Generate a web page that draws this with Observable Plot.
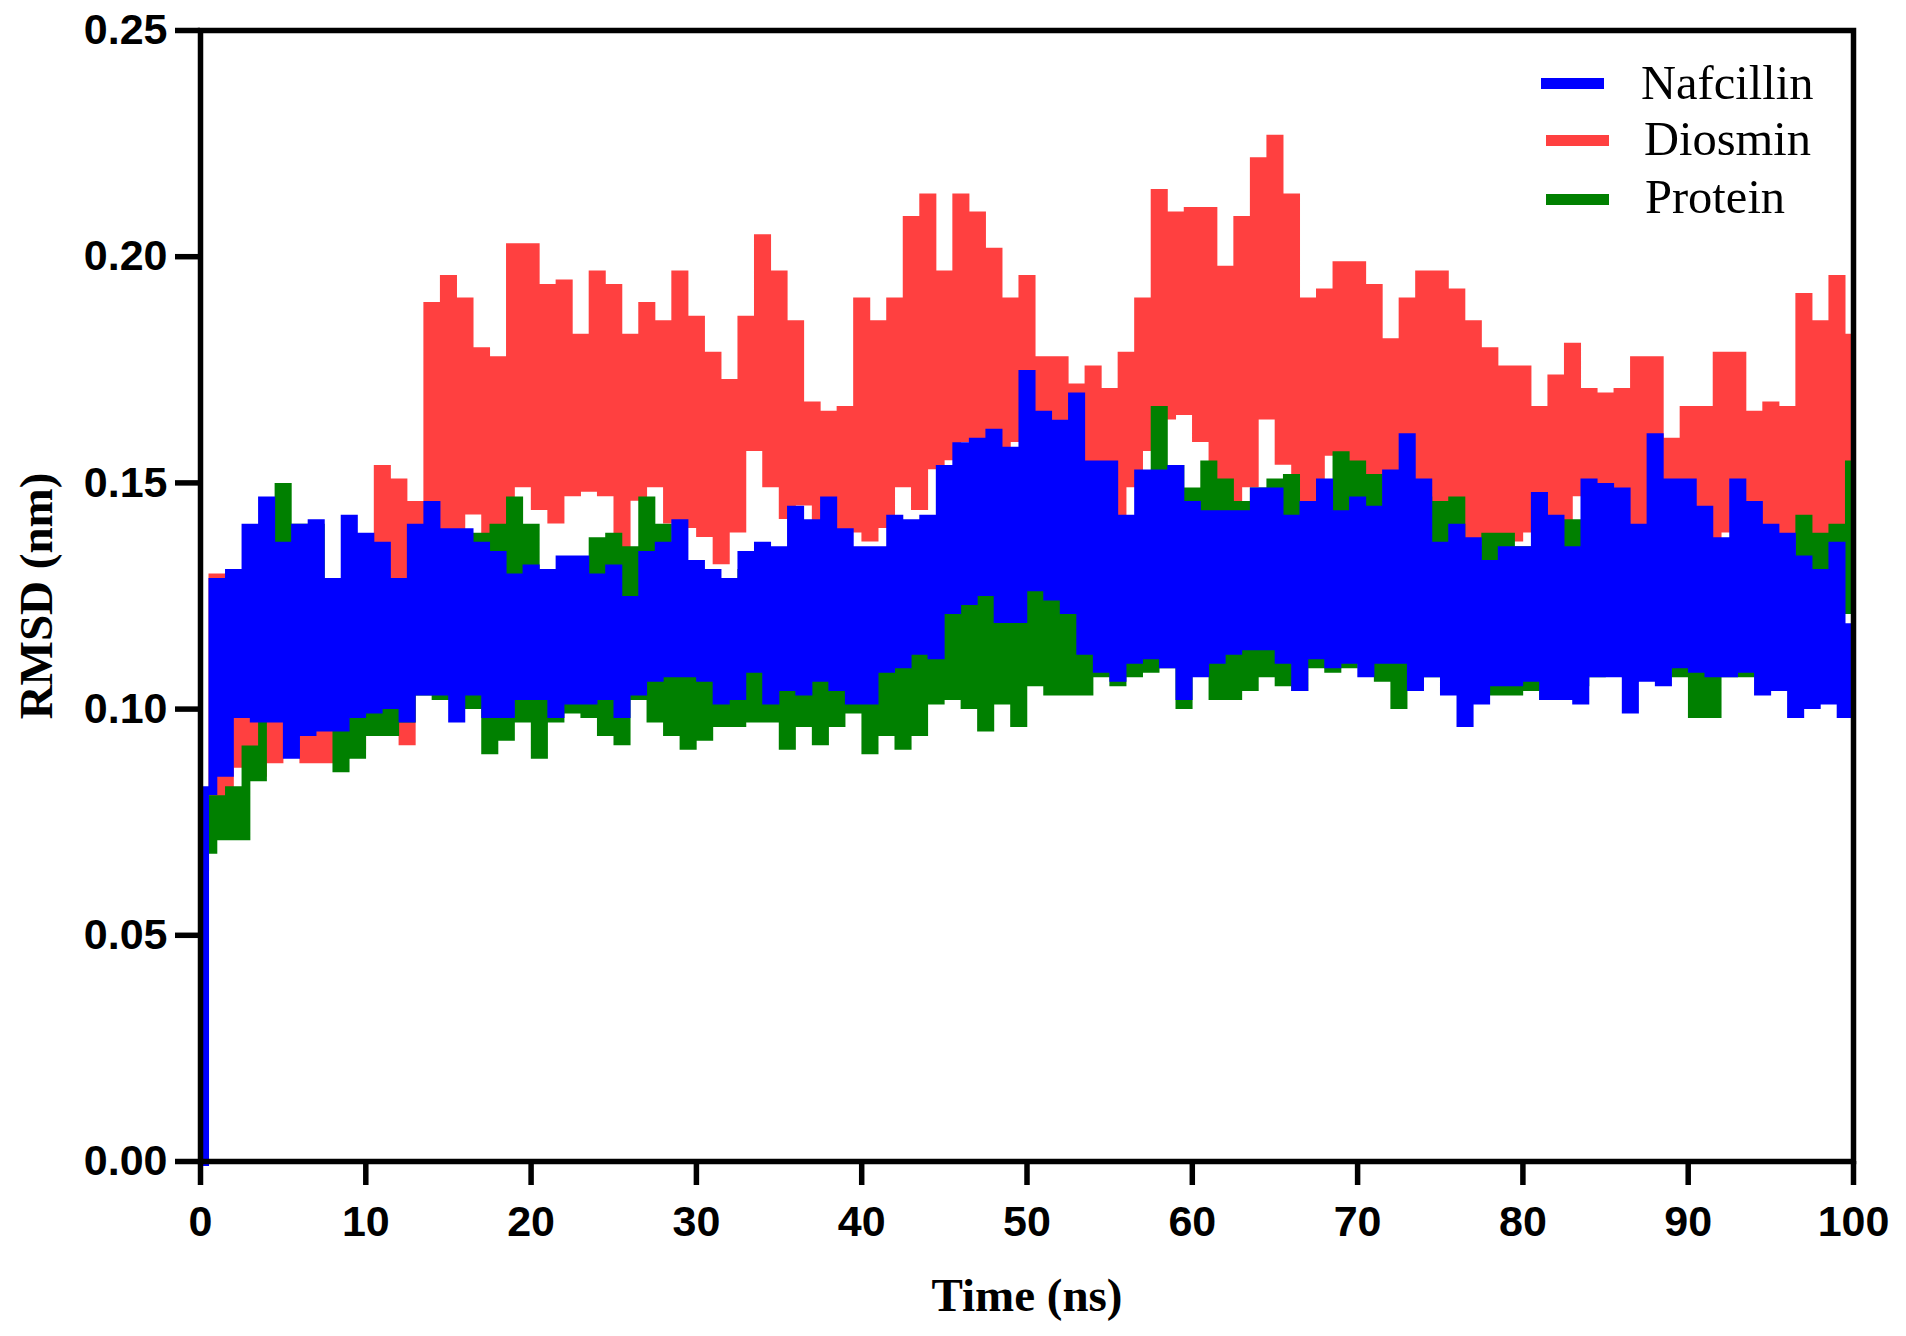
<!DOCTYPE html>
<html>
<head>
<meta charset="utf-8">
<script src="https://cdn.jsdelivr.net/npm/d3@7"></script>
<script src="https://cdn.jsdelivr.net/npm/@observablehq/plot@0.6"></script>
<style>
  html, body { margin: 0; padding: 0; background: #fff; }
  #wrap { position: relative; width: 1906px; height: 1336px; }
  #legend .sw { position: absolute; width: 63px; height: 11px; }
  #legend .lb { position: absolute; font-family: "Liberation Serif", "Times New Roman", serif; font-size: 48.5px; line-height: 48.5px; color: #000; white-space: nowrap; }
</style>
</head>
<body>
<div id="wrap"><div id="chart"></div><div id="legend"></div></div>
<script>
// ---- categories / labels ----
const seriesNames  = ["Nafcillin", "Diosmin", "Protein"];
const seriesColors = ["#0000FF", "#FF4040", "#008000"];
const xTicks = [0, 10, 20, 30, 40, 50, 60, 70, 80, 90, 100];
const yTicks = [0.00, 0.05, 0.10, 0.15, 0.20, 0.25];
const xLabel = "Time (ns)";
const yLabel = "RMSD (nm)";

// ---- values ----
// "peaks" are the local maxima at t = 0,1,...,100 ns ; "troughs" the local minima at t = 0.5,1.5,...,99.5 ns
const nafcillinPeaks = [0.000,
  0.128,0.130,0.140,0.146,0.136,0.140,0.141,0.128,0.142,0.138,
  0.136,0.128,0.140,0.145,0.139,0.139,0.136,0.134,0.129,0.131,
  0.130,0.133,0.133,0.129,0.131,0.124,0.134,0.136,0.141,0.132,
  0.130,0.128,0.134,0.136,0.135,0.144,0.141,0.146,0.139,0.135,
  0.135,0.142,0.141,0.142,0.153,0.158,0.159,0.161,0.157,0.174,
  0.165,0.163,0.169,0.154,0.154,0.142,0.152,0.152,0.153,0.145,
  0.143,0.143,0.143,0.148,0.148,0.142,0.145,0.150,0.143,0.146,
  0.144,0.152,0.160,0.150,0.136,0.140,0.137,0.132,0.135,0.135,
  0.147,0.142,0.135,0.150,0.149,0.148,0.140,0.160,0.150,0.150,
  0.144,0.137,0.150,0.145,0.140,0.138,0.133,0.130,0.136,0.118];
const nafcillinTroughs = [
  0.082,0.086,0.099,0.098,0.098,0.090,0.095,0.096,0.096,0.099,
  0.100,0.101,0.098,0.104,0.104,0.098,0.104,0.099,0.099,0.103,
  0.103,0.099,0.102,0.102,0.103,0.099,0.104,0.107,0.108,0.108,
  0.107,0.102,0.103,0.109,0.102,0.105,0.104,0.107,0.105,0.102,
  0.102,0.109,0.110,0.113,0.112,0.122,0.124,0.126,0.120,0.120,
  0.127,0.125,0.122,0.113,0.109,0.107,0.111,0.112,0.110,0.103,
  0.108,0.111,0.113,0.114,0.114,0.111,0.105,0.112,0.110,0.111,
  0.108,0.111,0.111,0.105,0.108,0.104,0.097,0.102,0.106,0.106,
  0.107,0.103,0.103,0.102,0.108,0.108,0.100,0.107,0.106,0.110,
  0.109,0.108,0.108,0.109,0.104,0.105,0.099,0.101,0.102,0.099];

const diosminPeaks = [0.075,
  0.129,0.105,0.105,0.105,0.100,0.100,0.105,0.105,0.105,0.125,
  0.153,0.150,0.145,0.189,0.195,0.190,0.179,0.177,0.202,0.202,
  0.193,0.194,0.182,0.196,0.193,0.182,0.189,0.185,0.196,0.186,
  0.178,0.172,0.186,0.204,0.196,0.185,0.167,0.165,0.166,0.190,
  0.185,0.190,0.208,0.213,0.196,0.213,0.209,0.201,0.190,0.195,
  0.177,0.177,0.171,0.175,0.170,0.178,0.190,0.214,0.209,0.210,
  0.210,0.197,0.208,0.221,0.226,0.213,0.190,0.192,0.198,0.198,
  0.193,0.181,0.190,0.196,0.196,0.192,0.185,0.179,0.175,0.175,
  0.166,0.173,0.180,0.170,0.169,0.170,0.177,0.177,0.159,0.166,
  0.166,0.178,0.178,0.165,0.167,0.166,0.191,0.185,0.195,0.182];
const diosminTroughs = [
  0.077,0.081,0.088,0.086,0.089,0.092,0.089,0.089,0.090,0.092,
  0.097,0.100,0.093,0.141,0.140,0.140,0.144,0.127,0.140,0.150,
  0.145,0.142,0.148,0.149,0.148,0.125,0.147,0.150,0.142,0.141,
  0.139,0.133,0.140,0.158,0.150,0.143,0.146,0.141,0.137,0.140,
  0.138,0.141,0.150,0.145,0.154,0.156,0.160,0.155,0.157,0.160,
  0.160,0.160,0.157,0.145,0.143,0.142,0.150,0.158,0.165,0.166,
  0.160,0.145,0.144,0.150,0.165,0.155,0.144,0.145,0.157,0.152,
  0.148,0.143,0.150,0.150,0.146,0.138,0.138,0.134,0.135,0.138,
  0.140,0.140,0.131,0.148,0.145,0.142,0.137,0.136,0.136,0.143,
  0.138,0.136,0.140,0.138,0.135,0.133,0.130,0.129,0.130,0.140];

const proteinPeaks = [0.065,
  0.080,0.082,0.091,0.137,0.149,0.140,0.140,0.128,0.120,0.120,
  0.120,0.125,0.125,0.128,0.130,0.130,0.138,0.140,0.146,0.140,
  0.128,0.128,0.130,0.137,0.138,0.135,0.146,0.140,0.130,0.125,
  0.125,0.128,0.130,0.128,0.125,0.125,0.125,0.128,0.134,0.128,
  0.125,0.125,0.125,0.125,0.124,0.124,0.130,0.128,0.128,0.128,
  0.128,0.128,0.130,0.130,0.135,0.140,0.140,0.166,0.153,0.148,
  0.154,0.150,0.145,0.148,0.150,0.151,0.145,0.148,0.156,0.154,
  0.151,0.145,0.145,0.146,0.145,0.146,0.135,0.138,0.138,0.135,
  0.130,0.141,0.141,0.130,0.130,0.130,0.130,0.130,0.130,0.135,
  0.133,0.135,0.130,0.130,0.130,0.133,0.142,0.138,0.140,0.154];
const proteinTroughs = [
  0.069,0.072,0.072,0.085,0.100,0.100,0.100,0.098,0.087,0.090,
  0.095,0.095,0.098,0.104,0.103,0.103,0.101,0.091,0.094,0.098,
  0.090,0.098,0.100,0.099,0.095,0.093,0.103,0.098,0.095,0.092,
  0.094,0.097,0.097,0.098,0.098,0.092,0.097,0.093,0.097,0.100,
  0.091,0.095,0.092,0.095,0.102,0.103,0.101,0.096,0.102,0.097,
  0.106,0.104,0.104,0.104,0.108,0.106,0.108,0.109,0.110,0.101,
  0.109,0.103,0.103,0.105,0.108,0.106,0.105,0.110,0.109,0.110,
  0.111,0.107,0.101,0.106,0.108,0.110,0.108,0.108,0.104,0.104,
  0.105,0.103,0.105,0.106,0.108,0.109,0.108,0.108,0.110,0.108,
  0.099,0.099,0.108,0.108,0.108,0.108,0.110,0.112,0.112,0.122];

// ---- build tables (peak at t = i ns, trough at t = i + 0.5 ns) ----
function buildRows(name, peaks, troughs) {
  const rows = [];
  peaks.forEach((v, i) => {
    rows.push({series: name, t: i, v: v});
    if (i < troughs.length) rows.push({series: name, t: i + 0.5, v: troughs[i]});
  });
  return rows;
}
const nafRows = buildRows(seriesNames[0], nafcillinPeaks, nafcillinTroughs);
const dioRows = buildRows(seriesNames[1], diosminPeaks, diosminTroughs);
const proRows = buildRows(seriesNames[2], proteinPeaks, proteinTroughs);

const sansBold = "'Liberation Sans', Arial, Helvetica, sans-serif";
const serif = "'Liberation Serif', 'Times New Roman', serif";
const lineOpts = {x: "t", y: "v", strokeWidth: 8.8, curve: "step", strokeLinejoin: "miter", strokeMiterlimit: 10, strokeLinecap: "butt"};

const chart = Plot.plot({
  width: 1906,
  height: 1336,
  marginLeft: 200,
  marginRight: 53,
  marginTop: 30,
  marginBottom: 175,
  x: {domain: [0, 100]},
  y: {domain: [0, 0.25]},
  style: {background: "white", color: "black", overflow: "visible"},
  marks: [
    Plot.line(dioRows, {...lineOpts, stroke: seriesColors[1]}),
    Plot.line(proRows, {...lineOpts, stroke: seriesColors[2]}),
    Plot.line(nafRows, {...lineOpts, stroke: seriesColors[0]}),
    Plot.frame({stroke: "black", strokeWidth: 5.5}),
    Plot.axisX(xTicks, {tickSize: 24, tickPadding: 20, fontSize: 43, fontWeight: "bold", fontFamily: sansBold, strokeWidth: 5.5, label: null, tickFormat: d => String(d)}),
    Plot.axisY(yTicks, {tickSize: 25, tickPadding: 8, fontSize: 43, fontWeight: "bold", fontFamily: sansBold, strokeWidth: 5.5, label: null, tickFormat: d3.format(".2f")}),
    Plot.text([xLabel], {text: d => d, frameAnchor: "bottom", dy: 134, textAnchor: "middle", lineAnchor: "middle", fontSize: 47, fontWeight: "bold", fontFamily: serif, fill: "black"}),
    Plot.text([yLabel], {text: d => d, frameAnchor: "left", dx: -164, rotate: -90, textAnchor: "middle", lineAnchor: "middle", fontSize: 47, fontWeight: "bold", fontFamily: serif, fill: "black"})
  ]
});
document.getElementById("chart").appendChild(chart);

// ---- legend (HTML overlay, top right inside the frame) ----
const legendRows = [
  {swLeft: 1541, swTop: 77.5, lbLeft: 1641, lbTop: 58.5},
  {swLeft: 1546, swTop: 134.5, lbLeft: 1644, lbTop: 114.5},
  {swLeft: 1546, swTop: 193.5, lbLeft: 1645, lbTop: 172.5}
];
const legend = document.getElementById("legend");
seriesNames.forEach((name, i) => {
  const r = legendRows[i];
  const sw = document.createElement("div");
  sw.className = "sw";
  sw.style.left = r.swLeft + "px";
  sw.style.top = r.swTop + "px";
  sw.style.background = seriesColors[i];
  legend.appendChild(sw);
  const lb = document.createElement("div");
  lb.className = "lb";
  lb.style.left = r.lbLeft + "px";
  lb.style.top = r.lbTop + "px";
  lb.textContent = name;
  legend.appendChild(lb);
});
</script>
</body>
</html>
